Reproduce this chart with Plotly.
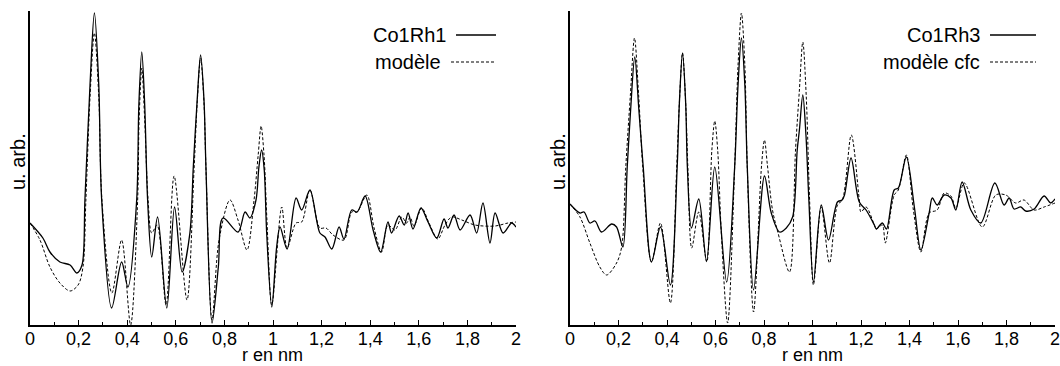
import plotly.graph_objects as go

# Co1Rh1 (left) -- experimental and model, r in nm, intensity in arbitrary units
r_rh1 = [0.000, 0.053, 0.082, 0.123, 0.165, 0.193, 0.214, 0.226, 0.247, 0.265, 0.283, 0.295, 0.336, 0.377,
         0.403, 0.439, 0.448, 0.460, 0.472, 0.484, 0.501, 0.525, 0.563, 0.595, 0.626, 0.658, 0.672, 0.688,
         0.702, 0.716, 0.724, 0.749, 0.775, 0.794, 0.856, 0.885, 0.905, 0.930, 0.942, 0.953, 0.964, 0.974,
         0.995, 1.015, 1.029, 1.058, 1.095, 1.118, 1.152, 1.193, 1.214, 1.242, 1.272, 1.292, 1.324, 1.346,
         1.379, 1.412, 1.443, 1.473, 1.488, 1.519, 1.540, 1.556, 1.576, 1.609, 1.638, 1.674, 1.704, 1.720,
         1.745, 1.770, 1.811, 1.838, 1.864, 1.893, 1.914, 1.947, 1.982, 2.000]
co1rh1 = [102, 87, 73, 63, 60, 52, 60, 125, 240, 312, 240, 125, 17, 63,
          38, 125, 220, 273, 220, 125, 68, 108, 17, 118, 53, 92, 158, 225,
          270, 225, 158, 2, 58, 107, 93, 113, 107, 125, 158, 175, 155, 92,
          18, 78, 98, 76, 127, 115, 135, 92, 88, 76, 98, 86, 115, 113,
          129, 95, 73, 103, 92, 109, 100, 112, 96, 117, 103, 87, 106, 97,
          110, 95, 110, 92, 122, 82, 112, 92, 102, 98]

r_mod1 = [0.000, 0.041, 0.082, 0.123, 0.165, 0.198, 0.218, 0.230, 0.247, 0.265, 0.283, 0.296, 0.337, 0.377,
          0.414, 0.443, 0.449, 0.460, 0.472, 0.486, 0.501, 0.523, 0.560, 0.593, 0.646, 0.675, 0.688, 0.702,
          0.716, 0.724, 0.749, 0.778, 0.823, 0.856, 0.893, 0.922, 0.939, 0.951, 0.963, 0.975, 0.995, 1.036,
          1.058, 1.095, 1.118, 1.152, 1.193, 1.218, 1.247, 1.292, 1.324, 1.346, 1.386, 1.416, 1.447, 1.473,
          1.502, 1.530, 1.550, 1.564, 1.580, 1.612, 1.642, 1.678, 1.708, 1.735, 1.777, 1.831, 1.914, 1.967,
          2.000]
modele1 = [102, 85, 58, 42, 34, 40, 58, 125, 228, 292, 228, 125, 32, 85,
           0, 125, 205, 257, 205, 125, 92, 100, 20, 149, 25, 155, 222, 267,
           222, 158, 5, 85, 125, 105, 75, 125, 170, 199, 170, 105, 20, 118,
           77, 102, 103, 135, 97, 97, 90, 85, 113, 113, 130, 97, 73, 100,
           95, 108, 102, 108, 99, 117, 102, 86, 100, 108, 105, 100, 99, 102,
           103]

# Co1Rh3 (right) -- experimental and fcc model
r_rh3 = [0.000, 0.041, 0.058, 0.082, 0.103, 0.130, 0.172, 0.192, 0.218, 0.236, 0.250, 0.267, 0.284, 0.302,
         0.336, 0.373, 0.414, 0.442, 0.451, 0.464, 0.477, 0.484, 0.501, 0.531, 0.563, 0.597, 0.646, 0.679,
         0.693, 0.707, 0.721, 0.731, 0.757, 0.802, 0.830, 0.864, 0.892, 0.918, 0.937, 0.946, 0.960, 0.973,
         0.985, 1.004, 1.036, 1.066, 1.103, 1.122, 1.132, 1.159, 1.193, 1.221, 1.255, 1.263, 1.288, 1.305,
         1.337, 1.354, 1.387, 1.420, 1.447, 1.481, 1.494, 1.514, 1.543, 1.571, 1.591, 1.617, 1.653, 1.694,
         1.752, 1.790, 1.811, 1.831, 1.859, 1.879, 1.914, 1.955, 1.982, 2.000]
co1rh3 = [121, 112, 113, 102, 104, 93, 101, 98, 78, 158, 215, 268, 215, 158,
          63, 98, 40, 158, 222, 272, 222, 158, 97, 126, 64, 158, 43, 158,
          240, 287, 240, 158, 35, 149, 112, 93, 97, 108, 175, 195, 230, 190,
          125, 43, 120, 85, 123, 125, 130, 167, 123, 115, 100, 96, 102, 96,
          135, 137, 168, 118, 75, 112, 127, 120, 130, 127, 115, 143, 115, 102,
          142, 120, 127, 116, 118, 114, 116, 129, 122, 126]

r_mod3 = [0.000, 0.041, 0.082, 0.123, 0.151, 0.192, 0.213, 0.230, 0.249, 0.266, 0.283, 0.300, 0.336, 0.373,
          0.414, 0.440, 0.451, 0.464, 0.477, 0.486, 0.502, 0.531, 0.564, 0.585, 0.597, 0.609, 0.624, 0.650,
          0.679, 0.693, 0.707, 0.721, 0.731, 0.757, 0.790, 0.802, 0.814, 0.835, 0.858, 0.905, 0.930, 0.946,
          0.960, 0.974, 0.988, 1.004, 1.036, 1.070, 1.103, 1.123, 1.160, 1.193, 1.200, 1.221, 1.255, 1.263,
          1.288, 1.300, 1.337, 1.354, 1.387, 1.416, 1.447, 1.481, 1.514, 1.543, 1.571, 1.591, 1.626, 1.700,
          1.756, 1.797, 1.838, 1.872, 1.914, 1.955, 2.000]
modele3 = [121, 108, 82, 58, 50, 62, 78, 158, 230, 287, 230, 158, 63, 102,
           22, 158, 222, 272, 222, 158, 77, 113, 63, 175, 204, 175, 92, 2,
           158, 260, 312, 260, 158, 13, 160, 185, 160, 115, 92, 53, 175, 235,
           283, 230, 125, 40, 118, 62, 120, 125, 190, 125, 113, 118, 100, 96,
           100, 82, 130, 135, 170, 115, 73, 112, 115, 132, 129, 117, 142, 98,
           130, 130, 122, 125, 115, 118, 122]

tick_vals = [0, 0.2, 0.4, 0.6, 0.8, 1.0, 1.2, 1.4, 1.6, 1.8, 2.0]
tick_text = ["0", "0,2", "0,4", "0,6", "0,8", "1", "1,2", "1,4", "1,6", "1,8", "2"]

FONT = "Liberation Sans, Arial, sans-serif"
W, H = 1060, 366

fig = go.Figure()
solid = dict(color="black", width=1.3, shape="spline", smoothing=0.9)
dashed = dict(color="black", width=1, dash="3px,2px", shape="spline", smoothing=0.9)
fig.add_trace(go.Scatter(x=r_rh1, y=co1rh1, mode="lines", line=solid, xaxis="x", yaxis="y"))
fig.add_trace(go.Scatter(x=r_mod1, y=modele1, mode="lines", line=dashed, xaxis="x", yaxis="y"))
fig.add_trace(go.Scatter(x=r_rh3, y=co1rh3, mode="lines", line=solid, xaxis="x2", yaxis="y2"))
fig.add_trace(go.Scatter(x=r_mod3, y=modele3, mode="lines", line=dashed, xaxis="x2", yaxis="y2"))

xcommon = dict(range=[0, 2], tickvals=tick_vals, ticktext=tick_text, ticks="inside", ticklen=5, tickwidth=1,
               tickcolor="black", showline=True, linecolor="black", linewidth=1.5, showgrid=False, zeroline=False,
               tickfont=dict(family=FONT, size=18, color="black"), automargin=False,
               ticklabeloverflow="allow", ticklabelstandoff=-3,
               minor=dict(tickvals=[0.1, 0.3, 0.5, 0.7, 0.9, 1.1, 1.3, 1.5, 1.7, 1.9], ticks="inside", ticklen=3, tickcolor="black"))
ycommon = dict(range=[0, 314], showticklabels=False, ticks="", showline=True, linecolor="black", linewidth=1.5,
               showgrid=False, zeroline=False, automargin=False, domain=[41 / H, 1 - 11 / H])

fig.update_layout(
    width=W, height=H, margin=dict(l=0, r=0, t=0, b=0),
    paper_bgcolor="white", plot_bgcolor="white", showlegend=False,
    xaxis=dict(xcommon, domain=[30 / W, 516 / W], anchor="y"),
    yaxis=dict(ycommon, anchor="x"),
    xaxis2=dict(xcommon, domain=[570 / W, 1055 / W], anchor="y2"),
    yaxis2=dict(ycommon, anchor="x2"),
)

# axis titles
for xc in (272, 812):
    fig.add_annotation(text="r en nm", xref="paper", yref="paper", x=xc / W, y=1 - 355 / H, showarrow=False,
                       xanchor="center", yanchor="middle", font=dict(family=FONT, size=18, color="black"))
for xc in (18, 558):
    fig.add_annotation(text="u. arb.", xref="paper", yref="paper", x=xc / W, y=1 - 162 / H, showarrow=False,
                       textangle=-90, xanchor="center", yanchor="middle", font=dict(family=FONT, size=20, color="black"))

# legend blocks: label on the left, line sample on the right
legend = [("Co1Rh1", "solid", 448, 496, 35), ("modèle", "3px,2px", 443, 496, 62),
          ("Co1Rh3", "solid", 982, 1036, 35), ("modèle cfc", "3px,2px", 982, 1036, 62)]
for label, dash, xr, xe, yp in legend:
    fig.add_annotation(text=label, xref="paper", yref="paper", x=xr / W, y=1 - yp / H, xanchor="right",
                       yanchor="middle", showarrow=False, font=dict(family=FONT, size=20, color="black"))
    fig.add_shape(type="line", xref="paper", yref="paper", x0=(xr + 8) / W, x1=xe / W, y0=1 - yp / H, y1=1 - yp / H,
                  line=dict(color="black", width=1.3 if dash == "solid" else 1, dash=dash))

fig.write_html("out.html", config={"displayModeBar": False},
               post_script="document.body.style.margin='0';document.body.style.overflow='hidden';")
